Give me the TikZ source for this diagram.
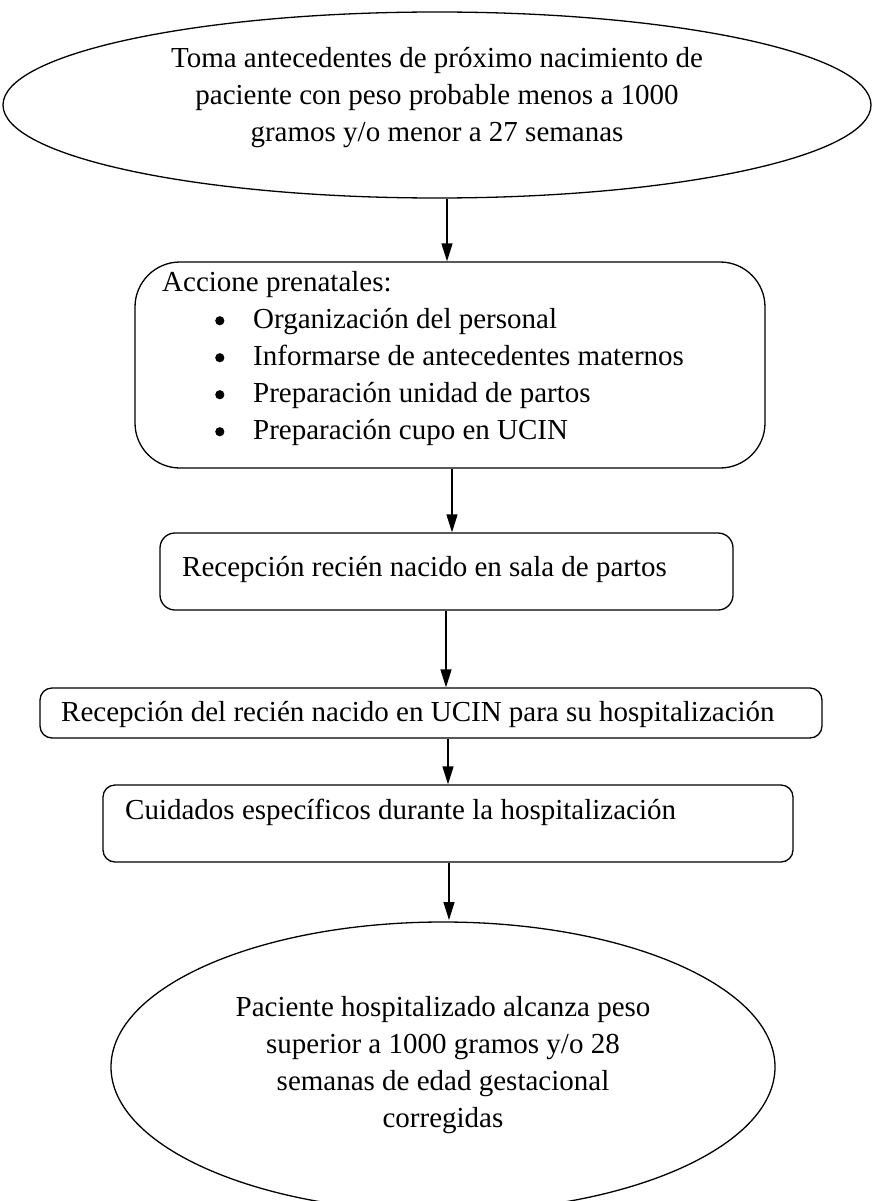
\documentclass[tikz,border=0pt]{standalone}
\usepackage{fontspec}
\setmainfont{Liberation Serif}
\usetikzlibrary{shapes.geometric,arrows.meta}
\newcommand{\bigbul}{\makebox[38pt][l]{\raisebox{3pt}{\tikz\fill[black] (0,0) circle (4.6pt);}}}
\begin{document}
\begin{tikzpicture}[x=1pt,y=-1pt,
  every node/.style={font=\fontsize{29}{37}\selectfont, inner sep=0pt},
  oval/.style={draw, line width=1.3pt, ellipse},
  box/.style={draw, line width=1.3pt},
  txt/.style={align=left, anchor=west},
  flow/.style={line width=1.3pt, -{Triangle[width=11pt,length=18pt]}}]
\useasboundingbox (0,0) rectangle (877,1201);
\fill[white] (0,0) rectangle (877,1201);

\node[oval, minimum width=868pt, minimum height=186pt] (e1) at (437,105) {};
\node[align=center] (t1) at (437,98) {Toma antecedentes de próximo nacimiento de\\paciente con peso probable menos a 1000\\gramos y/o menor a 27 semanas};

\node[box, rounded corners=45pt, minimum width=630pt, minimum height=206pt] (b2) at (450,365) {};
\node[txt, anchor=north west] (t2) at (162,271) {Accione prenatales:\\
\hspace*{53pt}\bigbul Organización del personal\\
\hspace*{53pt}\bigbul Informarse de antecedentes maternos\\
\hspace*{53pt}\bigbul Preparación unidad de partos\\
\hspace*{53pt}\bigbul Preparación cupo en UCIN};

\node[box, rounded corners=15pt, minimum width=573pt, minimum height=77pt] (b3) at (446.5,571.5) {};
\node[txt] (t3) at (182,569) {Recepción recién nacido en sala de partos};

\node[box, rounded corners=12pt, minimum width=782pt, minimum height=50pt] (b4) at (431,713) {};
\node[txt] (t4) at (61,714) {Recepción del recién nacido en UCIN para su hospitalización};

\node[box, rounded corners=12pt, minimum width=690pt, minimum height=77pt] (b5) at (448,823.5) {};
\node[txt] (t5) at (125,812) {Cuidados específicos durante la hospitalización};

\node[oval, minimum width=664pt, minimum height=290pt] (e6) at (443,1067) {};
\node[align=center] (t6) at (443,1065) {Paciente hospitalizado alcanza peso\\superior a 1000 gramos y/o 28\\semanas de edad gestacional\\corregidas};

\draw[flow] (e1.south -| 447,0) -- (b2.north -| 447,0);
\draw[flow] (b2.south -| 452,0) -- (b3.north -| 452,0);
\draw[flow] (b3.south -| 446,0) -- (b4.north -| 446,0);
\draw[flow] (b4.south -| 448,0) -- (b5.north -| 448,0);
\coordinate (a5) at (449,920);
\draw[flow] (b5.south -| 449,0) -- (a5);
\end{tikzpicture}
\end{document}
